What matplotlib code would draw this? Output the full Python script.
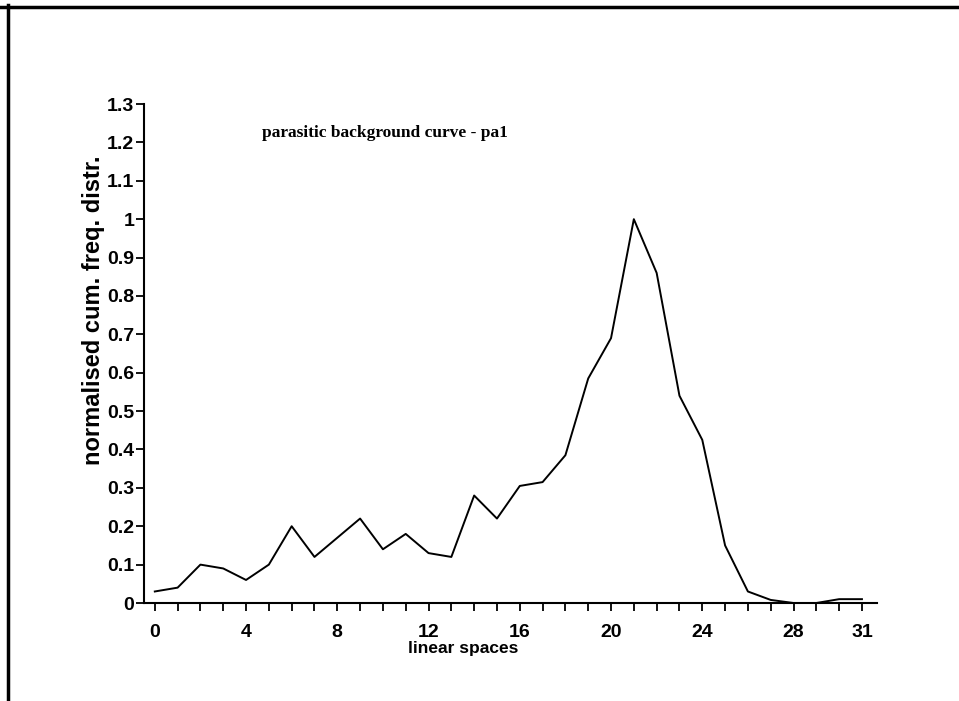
import matplotlib
matplotlib.use("Agg")
import matplotlib.pyplot as plt
from matplotlib.lines import Line2D

# linear spaces 0..31 and the normalised cumulative frequency values
spaces = list(range(32))
freq = [0.03, 0.04, 0.10, 0.09, 0.06, 0.10, 0.20, 0.12, 0.17, 0.22,
        0.14, 0.18, 0.13, 0.12, 0.28, 0.22, 0.305, 0.315, 0.385, 0.585,
        0.69, 1.00, 0.86, 0.54, 0.425, 0.15, 0.03, 0.008, 0.0, 0.0,
        0.01, 0.01]

xticks = [0, 4, 8, 12, 16, 20, 24, 28, 31]
yticks = [0, 0.1, 0.2, 0.3, 0.4, 0.5, 0.6, 0.7, 0.8, 0.9, 1.0, 1.1, 1.2, 1.3]
ylabels = ["0", "0.1", "0.2", "0.3", "0.4", "0.5", "0.6", "0.7", "0.8",
           "0.9", "1", "1.1", "1.2", "1.3"]

sans = "Liberation Sans"
serif = "Liberation Serif"

fig = plt.figure(figsize=(9.59, 7.01), dpi=100)
ax = fig.add_axes([0.150, 0.1398, 0.7645, 0.7118])

ax.plot(spaces, freq, color="black", lw=1.4)

ax.set_xlim(-0.48, 31.66)
ax.set_ylim(0, 1.3)
ax.spines["top"].set_visible(False)
ax.spines["right"].set_visible(False)
ax.spines["left"].set_linewidth(1.5)
ax.spines["bottom"].set_linewidth(1.5)

ax.set_xticks(xticks)
ax.set_xticks(spaces, minor=True)
ax.set_xticklabels([str(t) for t in xticks], fontfamily=sans,
                   fontweight="bold", fontsize=14)
ax.set_yticks(yticks)
ax.set_yticklabels(ylabels, fontfamily=sans, fontweight="bold", fontsize=14)
ax.tick_params(axis="both", which="both", direction="out", length=6,
               width=1.3, color="black")
ax.tick_params(axis="x", pad=9)
ax.tick_params(axis="y", pad=1)

fig.text(0.483, 0.075, "linear spaces", ha="center", va="center",
         fontfamily=sans, fontweight="bold", fontsize=12.5)
fig.text(0.098, 0.558, "normalised cum. freq. distr.", ha="center",
         va="center", rotation=90, fontfamily=sans, fontweight="bold",
         fontsize=17)
fig.text(0.273, 0.81, "parasitic background curve - pa1", ha="left",
         va="center", fontfamily=serif, fontweight="bold", fontsize=12.5)

# page frame: top edge and left edge
fig.add_artist(Line2D([0.0, 1.0], [0.9905, 0.9905], color="black", lw=2.5,
                      transform=fig.transFigure))
fig.add_artist(Line2D([0.0083, 0.0083], [0.0, 0.9925], color="black", lw=2.5,
                      transform=fig.transFigure))

fig.savefig("out.png", dpi=100)
